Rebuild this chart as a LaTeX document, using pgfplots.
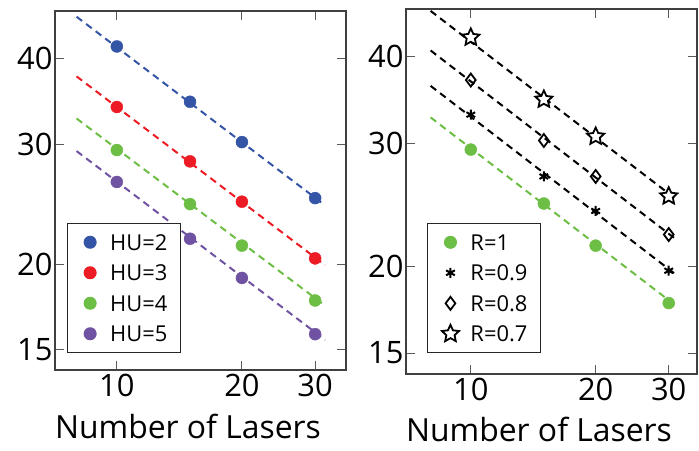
\documentclass[border=0pt]{standalone}
\usepackage{fontspec}
\setmainfont{Open Sans}
\usepackage{pgfplots}
\pgfplotsset{compat=1.18}
\definecolor{cblue}{RGB}{52,84,166}
\definecolor{cred}{RGB}{237,28,36}
\definecolor{cgreen}{RGB}{108,190,69}
\definecolor{cpurple}{RGB}{112,82,162}
\pgfdeclareplotmark{ostar}{%
  \pgfpathmoveto{\pgfpointpolar{90}{\pgfplotmarksize}}%
  \pgfpathlineto{\pgfpointpolar{126}{0.48\pgfplotmarksize}}%
  \pgfpathlineto{\pgfpointpolar{162}{\pgfplotmarksize}}%
  \pgfpathlineto{\pgfpointpolar{198}{0.48\pgfplotmarksize}}%
  \pgfpathlineto{\pgfpointpolar{234}{\pgfplotmarksize}}%
  \pgfpathlineto{\pgfpointpolar{270}{0.48\pgfplotmarksize}}%
  \pgfpathlineto{\pgfpointpolar{306}{\pgfplotmarksize}}%
  \pgfpathlineto{\pgfpointpolar{342}{0.48\pgfplotmarksize}}%
  \pgfpathlineto{\pgfpointpolar{18}{\pgfplotmarksize}}%
  \pgfpathlineto{\pgfpointpolar{54}{0.48\pgfplotmarksize}}%
  \pgfpathclose
  \pgfusepathqfillstroke}
\tikzset{ldash/.style={dash pattern=on 7bp off 5bp, line width=2bp}}
\pgfplotsset{legend image code/.code={%
  \path[draw=none, fill=none] (-12bp,0bp) -- (12bp,0bp);%
  \draw[#1] plot coordinates {(0bp,0bp)};}}
\pgfplotsset{every axis/.append style={
    scale only axis,
    width=291bp,
    xtick={10,20,30}, xticklabels={10,20,30},
    ytick={15,20,30,40}, yticklabels={15,20,30,40},
    tick align=inside, major tick length=9bp,
    tick style={line width=1.1bp, color=black!65},
    axis line style={line width=1.3bp, color=black!75},
    ticklabel style={font=\fontsize{31}{31}\selectfont},
    yticklabel style={xshift=1bp},
    xticklabel style={yshift=-1bp},
    xlabel={Number of Lasers},
    xlabel style={font=\fontsize{32}{32}\selectfont, at={(rel axis cs:0.457,0)}, anchor=base},
    legend cell align=left,
  },
  every axis legend/.append style={anchor=south west, font=\fontsize{22}{22}\selectfont,
      draw=black!85, line width=1bp, inner xsep=11bp, inner ysep=8.5bp, row sep=10.5bp, column sep=6bp,
      nodes={text height=16bp, text depth=0bp, inner sep=2bp}},
}
\begin{document}
\begin{tikzpicture}
\useasboundingbox (0,0) rectangle (699bp,451bp);
\begin{loglogaxis}[at={(55bp,81bp)}, anchor=south west, height=359bp,
  xmin=7.1, xmax=35.6, ymin=14, ymax=47,
  xlabel style={yshift=-69bp},
  legend style={at={(0.040,0.048)}}]
\addplot[cblue, ldash, forget plot] coordinates {(8,46.1) (31.7,24.4)};
\addplot[cred, ldash, forget plot] coordinates {(8,37.7) (31.7,19.95)};
\addplot[cgreen, ldash, forget plot] coordinates {(8,32.7) (31.7,17.4)};
\addplot[cpurple, ldash, forget plot] coordinates {(8,29.3) (31.7,15.5)};
\addplot[only marks, mark=*, mark size=6bp, cblue] coordinates {(10,41.7) (15,34.6) (20,30.2) (30,25.0)};
\addplot[only marks, mark=*, mark size=6bp, cred] coordinates {(10,34.0) (15,28.3) (20,24.7) (30,20.4)};
\addplot[only marks, mark=*, mark size=6bp, cgreen] coordinates {(10,29.4) (15,24.5) (20,21.3) (30,17.7)};
\addplot[only marks, mark=*, mark size=6bp, cpurple] coordinates {(10,26.4) (15,21.8) (20,19.1) (30,15.8)};
\legend{HU=2,HU=3,HU=4,HU=5}
\end{loglogaxis}
\begin{loglogaxis}[at={(406bp,77bp)}, anchor=south west, height=365bp,
  xmin=6.98, xmax=35.1, ymin=14, ymax=46.8,
  xlabel style={yshift=-68bp},
  legend style={at={(0.072,0.058)}}]
\addplot[black, ldash, forget plot] coordinates {(8,46.5) (31.4,24.9)};
\addplot[black, ldash, forget plot] coordinates {(8,40.8) (31.4,21.8)};
\addplot[black, ldash, forget plot] coordinates {(8,36.3) (31.4,19.4)};
\addplot[cgreen, ldash, forget plot] coordinates {(8,32.7) (31.4,17.5)};
\addplot[only marks, mark=*, mark size=6bp, cgreen] coordinates {(10,29.4) (15,24.6) (20,21.4) (30,17.7)};
\addplot[only marks, mark=asterisk, mark size=5bp, line width=2bp, black] coordinates {(10,33.0) (15,26.9) (20,24.0) (30,19.7)};
\addplot[only marks, mark=diamond, mark size=6.5bp, line width=1.8bp, black, fill=white] coordinates {(10,37.0) (15,30.3) (20,26.9) (30,22.2)};
\addplot[only marks, mark=ostar, mark size=9bp, line width=1.8bp, black, fill=white] coordinates {(10,42.6) (15,34.7) (20,30.7) (30,25.2)};
\legend{R=1,R=0.9,R=0.8,R=0.7}
\end{loglogaxis}
\end{tikzpicture}
\end{document}
